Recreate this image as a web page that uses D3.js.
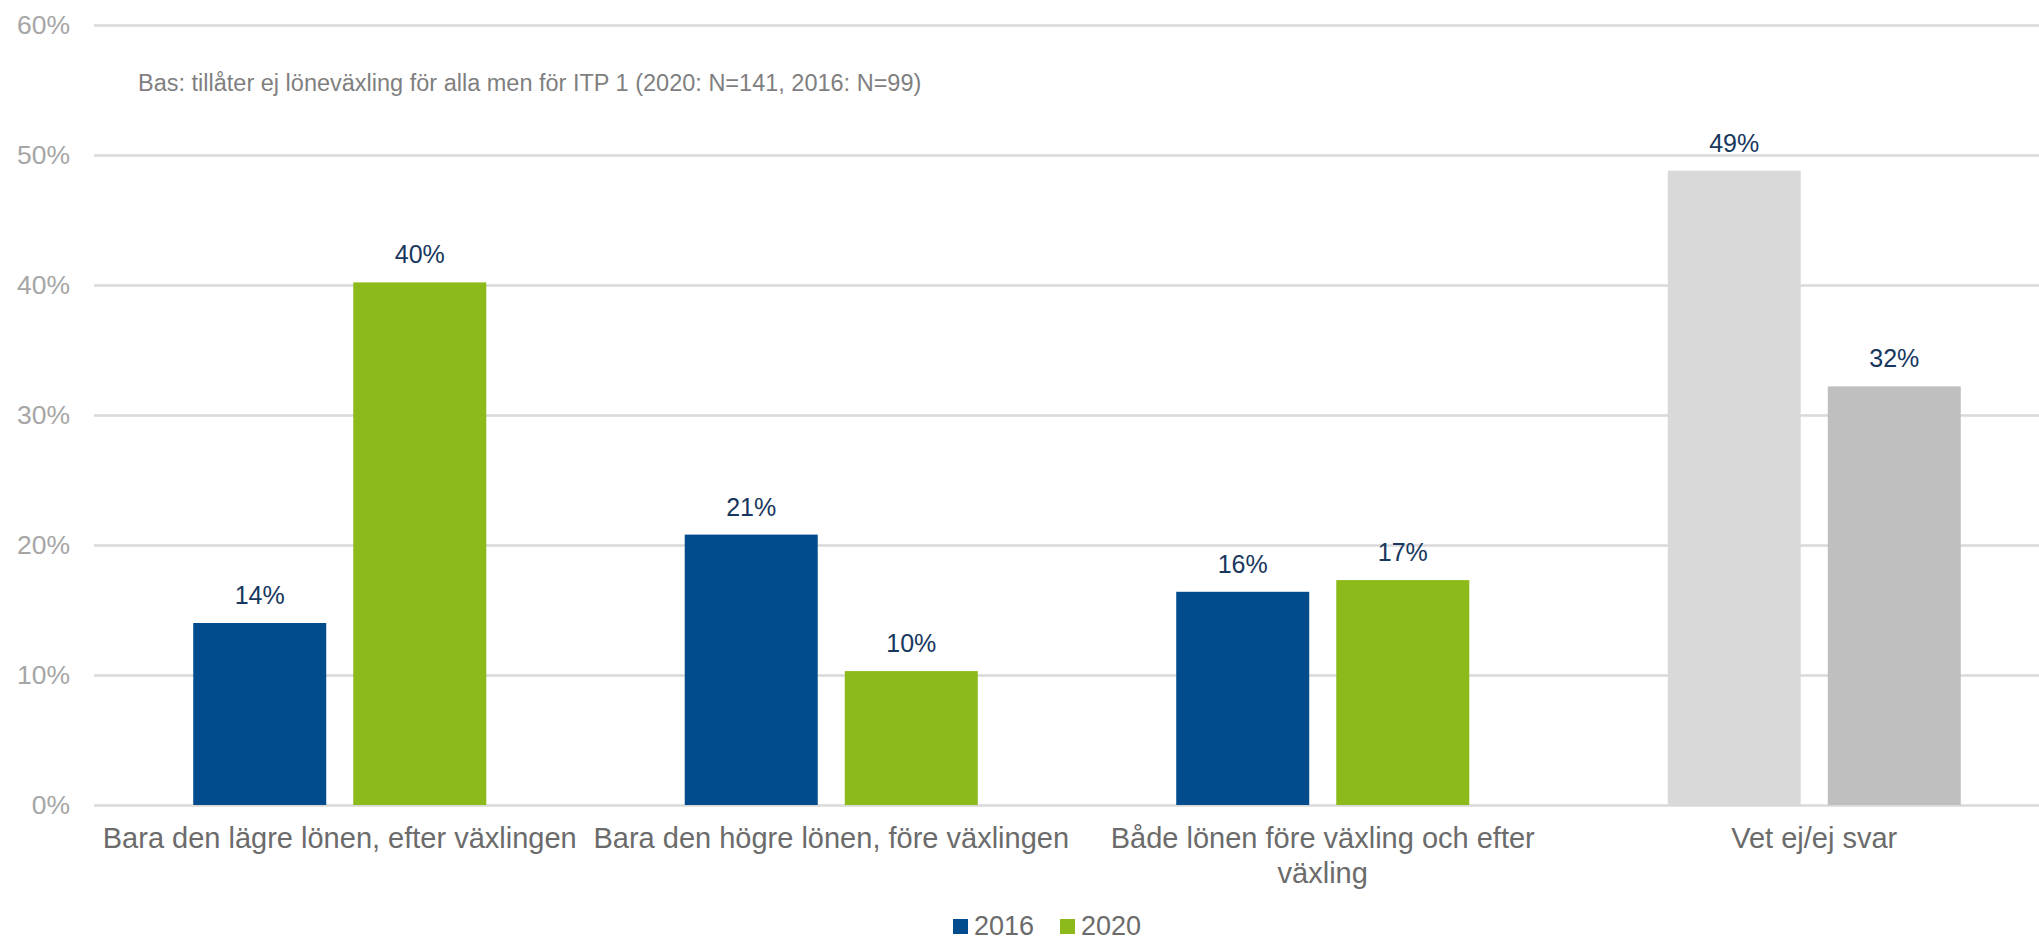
<!DOCTYPE html>
<html>
<head>
<meta charset="utf-8">
<script src="https://cdn.jsdelivr.net/npm/d3@7"></script>
<style>
  body { margin: 0; background: #fff; overflow: hidden; }
  text { font-family: "Liberation Sans", Arial, sans-serif; }
</style>
</head>
<body>
<div id="chart"></div>
<script>
// data
const categories = [
  "Bara den lägre lönen, efter växlingen",
  "Bara den högre lönen, före växlingen",
  "Både lönen före växling och efter\nväxling",
  "Vet ej/ej svar"
]
const years = ["2016", "2020"]
const values2016 = [14.0, 20.8, 16.4, 48.8]
const values2020 = [40.2, 10.3, 17.3, 32.2]
const yTicks = [0, 10, 20, 30, 40, 50, 60]
const note = "Bas: tillåter ej löneväxling för alla men för ITP 1 (2020: N=141, 2016: N=99)"

// colours: series colours, last category drawn in greys
const seriesColor = { "2016": "#024c8e", "2020": "#8bba1a" }
const greyColor = { "2016": "#d9d9d9", "2020": "#bfbfbf" }

var width = 2039, height = 941

var svg = d3.select("#chart").append("svg")
    .attr("width", width)
    .attr("height", height)

var x = d3.scaleBand()
    .domain(categories)
    .range([94, 2060])

var x1 = d3.scaleBand()
    .domain(years)
    .range([0, x.bandwidth()])
    .paddingInner(0.169)
    .paddingOuter(0.62)

var y = d3.scaleLinear()
    .domain([0, 60])
    .range([805, 25])

// gridlines + y labels
var yAxis = d3.axisLeft(y)
    .tickValues(yTicks)
    .tickSize(-(2060 - 94))
    .tickPadding(24)
    .tickFormat(function(d) { return d + "%" })

var gy = svg.append("g")
    .attr("transform", "translate(94,0)")
    .call(yAxis)
gy.select(".domain").remove()
gy.selectAll(".tick line").attr("stroke", "#d9d9d9").attr("stroke-width", 2.5)
gy.selectAll(".tick text")
    .attr("fill", "#a6a6a6")
    .style("font-size", "26.5px")
    .attr("font-family", null)

// note
svg.append("text")
    .attr("x", 138)
    .attr("y", 91)
    .attr("fill", "#7f7f7f")
    .style("font-size", "23.5px")
    .text(note)

// rows: one per bar
var rows = []
categories.forEach(function(c, i) {
  rows.push({ cat: c, year: "2016", value: values2016[i], idx: i })
  rows.push({ cat: c, year: "2020", value: values2020[i], idx: i })
})

var bars = svg.append("g")
bars.selectAll("rect").data(rows).enter().append("rect")
    .attr("x", function(d) { return x(d.cat) + x1(d.year) })
    .attr("y", function(d) { return y(d.value) })
    .attr("width", x1.bandwidth())
    .attr("height", function(d) { return y(0) - y(d.value) })
    .attr("fill", function(d) { return d.idx == 3 ? greyColor[d.year] : seriesColor[d.year] })

bars.selectAll("text").data(rows).enter().append("text")
    .attr("x", function(d) { return x(d.cat) + x1(d.year) + x1.bandwidth() / 2 })
    .attr("y", function(d) { return y(d.value) - 19 })
    .attr("text-anchor", "middle")
    .attr("fill", "#17375e")
    .style("font-size", "25px")
    .text(function(d) { return Math.round(d.value) + "%" })

// category labels
var cl = svg.append("g").selectAll("text").data(categories).enter().append("text")
    .attr("x", function(d) { return x(d) + x.bandwidth() / 2 })
    .attr("y", 848)
    .attr("text-anchor", "middle")
    .attr("fill", "#6b6b6b")
    .style("font-size", "29px")
cl.each(function(d) {
  var t = d3.select(this)
  d.split("\n").forEach(function(line, i) {
    t.append("tspan")
      .attr("x", x(d) + x.bandwidth() / 2)
      .attr("dy", i == 0 ? 0 : 35)
      .text(line)
  })
})

// legend (kept just inside the bottom edge)
var legX = [953, 1060]
var legend = svg.selectAll(".legend-entry").data(years)
  .enter().append("g")
  .attr("class", "legend-entry")

legend.append("rect")
    .attr("x", function(d, i) { return legX[i] })
    .attr("y", 919)
    .attr("width", 15)
    .attr("height", 15)
    .attr("fill", function(d) { return seriesColor[d] })

legend.append("text")
    .attr("x", function(d, i) { return legX[i] + 21 })
    .attr("y", 935)
    .attr("fill", "#6b6b6b")
    .style("font-size", "27px")
    .text(function(d) { return d })
</script>
</body>
</html>
